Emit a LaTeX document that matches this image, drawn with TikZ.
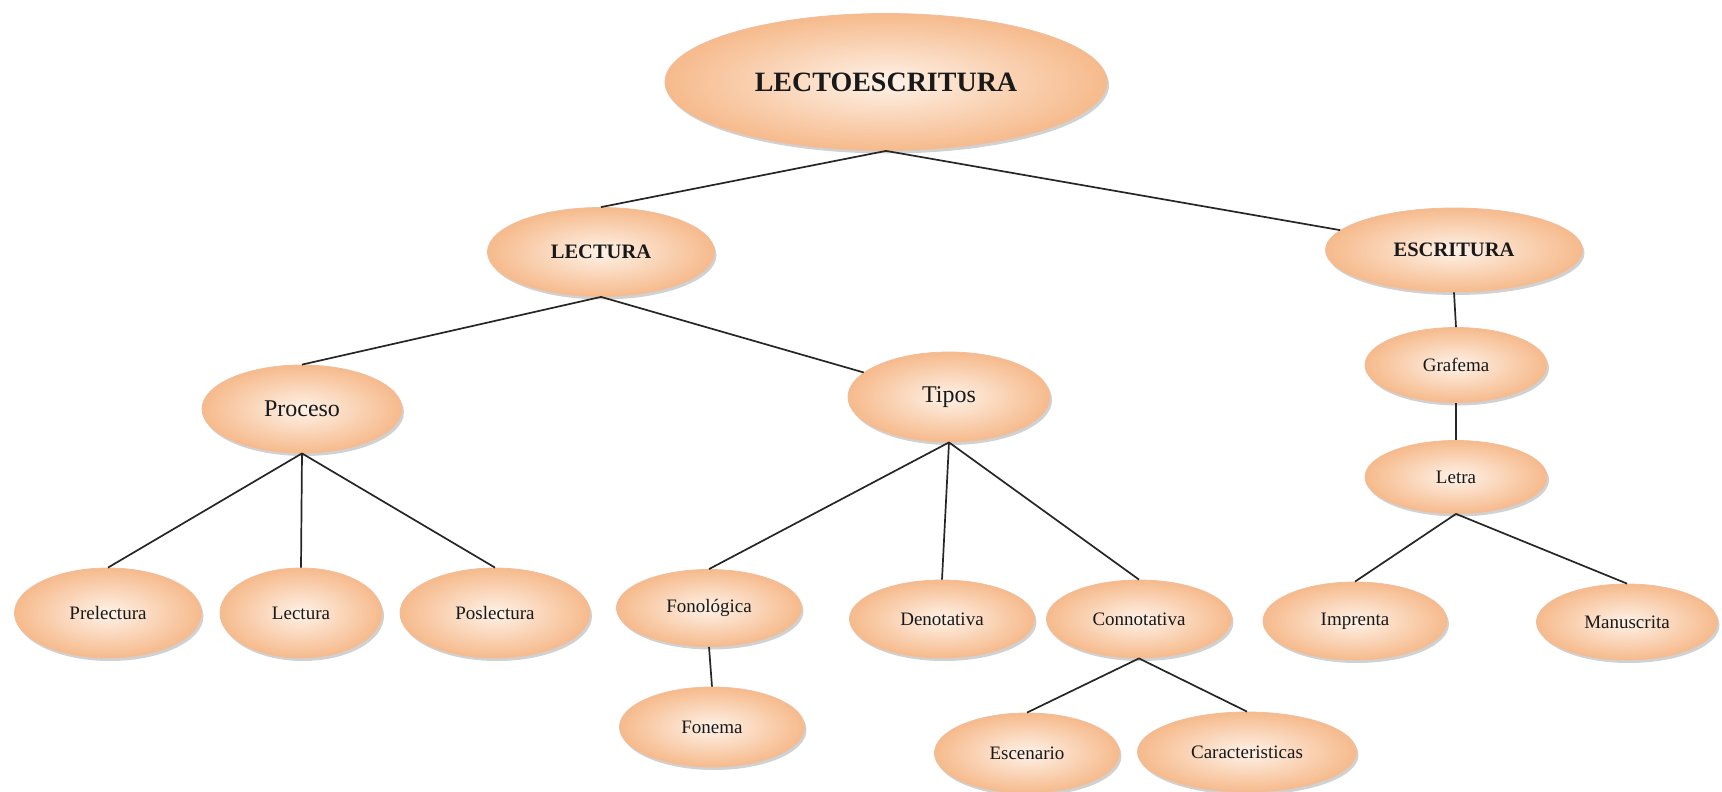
\documentclass[tikz,border=0pt]{standalone}
\usepackage{fontspec}
\setmainfont{Liberation Serif}
\usepackage{tikz}
\usetikzlibrary{shapes.geometric}
\usetikzlibrary{shadows}

\definecolor{peachlight}{RGB}{254,242,232}
\definecolor{peachdark}{RGB}{246,186,140}
\definecolor{peachrim}{RGB}{240,190,155}

\begin{document}
\begin{tikzpicture}[
            x=1pt, y=-1pt,
            bubble/.style={
                ellipse,
                inner sep=0pt,
                draw=peachrim,
                line width=0.8pt,
                inner color=peachlight,
                outer color=peachdark,
                drop shadow={shadow xshift=2pt, shadow yshift=-3pt, opacity=0.18, fill=black},
                text=black!90
            },
            leaf/.style={
                bubble,
                minimum width=185pt,
                minimum height=78pt,
                font=\fontsize{19}{21}\selectfont
            },
            branch/.style={
                bubble,
                minimum width=200pt,
                minimum height=88pt,
                font=\fontsize{24}{27}\selectfont
            },
            link/.style={line width=1.7pt, black!85}
        ]
        \fill[white] (0,0) rectangle (1722,792);
        \useasboundingbox (0,0) rectangle (1722,792);

        % level 0 and 1
        \node[bubble, minimum width=442pt, minimum height=137pt,
              font=\fontsize{28}{30}\selectfont\bfseries] (root) at (886,82) {LECTOESCRITURA};
        \node[bubble, minimum width=227pt, minimum height=89pt,
              font=\fontsize{20.5}{22}\selectfont\bfseries] (lectura) at (601,252) {LECTURA};
        \node[bubble, minimum width=257pt, minimum height=84pt,
              font=\fontsize{20.5}{22}\selectfont\bfseries] (escritura) at (1454,250) {ESCRITURA};

        % lectura side
        \node[branch] (proceso) at (302,409) {Proceso};
        \node[branch, minimum width=202pt, minimum height=90pt] (tipos) at (949,397) {Tipos};
        \node[leaf, minimum width=187pt, minimum height=90pt] (prelectura) at (108,613) {Prelectura};
        \node[leaf, minimum width=162pt, minimum height=90pt] (lecturaP) at (301,613) {Lectura};
        \node[leaf, minimum width=190pt, minimum height=90pt] (poslectura) at (495,613) {Poslectura};
        \node[leaf, minimum height=77pt] (fonologica) at (709,608) {Fonológica};
        \node[leaf, minimum height=80pt] (fonema) at (712,727) {Fonema};
        \node[leaf] (denotativa) at (942,619) {Denotativa};
        \node[leaf] (connotativa) at (1139,619) {Connotativa};
        \node[leaf, minimum height=80pt] (escenario) at (1027,753) {Escenario};
        \node[leaf, minimum width=219pt, minimum height=80pt] (caracteristicas) at (1247,752) {Caracteristicas};

        % escritura side
        \node[leaf, minimum width=182pt, minimum height=75pt] (grafema) at (1456,365) {Grafema};
        \node[leaf, minimum width=182pt, minimum height=73pt] (letra) at (1456,477) {Letra};
        \node[leaf, minimum width=184pt] (imprenta) at (1355,621) {Imprenta};
        \node[leaf, minimum width=181pt, minimum height=76pt] (manuscrita) at (1627,622) {Manuscrita};

        % connectors
        \draw[link] (root.south) -- (lectura.north);
        \draw[link] (root.south) -- (escritura);
        \draw[link] (lectura.south) -- (proceso.north);
        \draw[link] (lectura.south) -- (tipos);
        \foreach \child in {prelectura, lecturaP, poslectura} {
            \draw[link] (proceso.south) -- (\child.north);
        }
        \foreach \child in {fonologica, denotativa, connotativa} {
            \draw[link] (tipos.south) -- (\child.north);
        }
        \draw[link] (fonologica.south) -- (fonema.north);
        \foreach \child in {escenario, caracteristicas} {
            \draw[link] (connotativa.south) -- (\child.north);
        }
        \draw[link] (escritura.south) -- (grafema.north);
        \draw[link] (grafema.south) -- (letra.north);
        \foreach \child in {imprenta, manuscrita} {
            \draw[link] (letra.south) -- (\child.north);
        }
        \end{tikzpicture}
\end{document}
